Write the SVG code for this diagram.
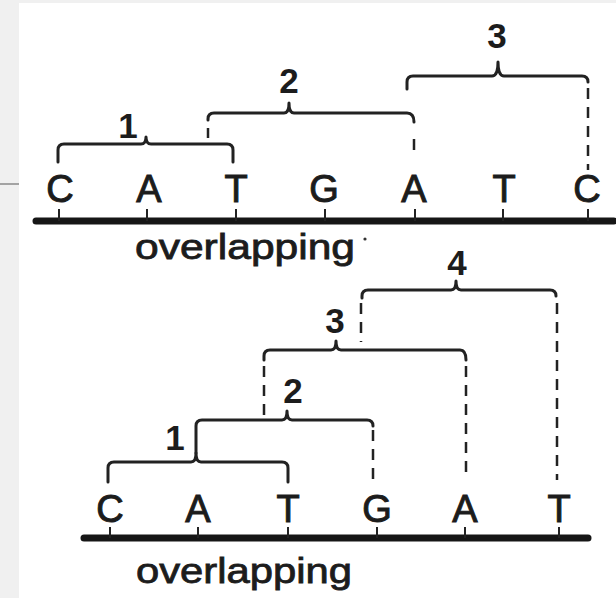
<svg xmlns="http://www.w3.org/2000/svg" width="616" height="598" viewBox="0 0 616 598">
<style>
.base{font-family:"Liberation Sans","Arial",sans-serif;font-size:38px;fill:#1c1c1c;stroke:#1c1c1c;stroke-width:1;text-anchor:middle}
.num{font-family:"Liberation Sans","Arial",sans-serif;font-size:35px;font-weight:bold;fill:#1c1c1c;text-anchor:middle}
.lbl{font-family:"Liberation Sans","Arial",sans-serif;font-size:35px;fill:#1c1c1c;stroke:#1c1c1c;stroke-width:0.8}
.br{fill:none;stroke:#222;stroke-width:3;stroke-linecap:round;stroke-linejoin:round}
.dash{fill:none;stroke:#222;stroke-width:2.5;stroke-dasharray:11 8}
.dna{stroke:#161616;stroke-width:7;stroke-linecap:round}
.tick{stroke:#222;stroke-width:2}
</style>
<rect x="0" y="0" width="616" height="598" fill="#ffffff"/>
<rect x="0" y="0" width="19" height="598" fill="#f0f0f0"/>
<rect x="0" y="0" width="616" height="3" fill="#f0f0f0"/>
<line x1="0" y1="184" x2="19" y2="184" stroke="#8a8a8a" stroke-width="1.5"/>

<!-- top strand -->
<g id="top-strand">
<line class="dna" x1="36" y1="221" x2="614" y2="221"/>
<g class="tick">
<line x1="59" y1="209" x2="59" y2="221"/><line x1="147" y1="209" x2="147" y2="221"/>
<line x1="236" y1="209" x2="236" y2="221"/><line x1="325" y1="209" x2="325" y2="221"/>
<line x1="415" y1="209" x2="415" y2="221"/><line x1="503" y1="209" x2="503" y2="221"/>
<line x1="588" y1="209" x2="588" y2="221"/>
</g>
<text class="base" x="60" y="202">C</text>
<text class="base" x="149" y="202">A</text>
<text class="base" x="236" y="202">T</text>
<text class="base" x="324" y="202">G</text>
<text class="base" x="414" y="202">A</text>
<text class="base" x="504" y="202">T</text>
<text class="base" x="587" y="202">C</text>
<text class="lbl" x="135" y="259" textLength="220" lengthAdjust="spacingAndGlyphs">overlapping</text>
<circle cx="365" cy="239" r="1.6" fill="#333"/>
</g>

<g id="top-codon-1">
<path class="br" d="M58,162 L58,150 Q58,144 64,144 L141,144 Q146,144 146,137 Q146,144 151,144 L227,144 Q233,144 233,150 L233,162"/>
<text class="num" x="128" y="138">1</text>
</g>
<g id="top-codon-2">
<path class="br" d="M208,120 L208,119 Q208,113 214,113 L284,113 Q289,113 289,103 Q289,113 294,113 L407,113 Q414,113 414,122"/>
<text class="num" x="289" y="93">2</text>
</g>
<g id="top-codon-3">
<path class="br" d="M407,89 L407,82 Q407,76 413,76 L492,76 Q498,76 498,62 Q498,76 504,76 L582,76 Q588,76 588,82"/>
<text class="num" x="497" y="48">3</text>
</g>

<!-- bottom strand -->
<g id="bottom-strand">
<line class="dna" x1="84" y1="538" x2="588" y2="538"/>
<g class="tick">
<line x1="110" y1="527" x2="110" y2="538"/><line x1="198" y1="527" x2="198" y2="538"/>
<line x1="288" y1="527" x2="288" y2="538"/><line x1="377" y1="527" x2="377" y2="538"/>
<line x1="465" y1="527" x2="465" y2="538"/><line x1="559" y1="527" x2="559" y2="538"/>
</g>
<text class="base" x="110" y="522">C</text>
<text class="base" x="198" y="522">A</text>
<text class="base" x="288" y="522">T</text>
<text class="base" x="377" y="522">G</text>
<text class="base" x="465" y="522">A</text>
<text class="base" x="559" y="522">T</text>
<text class="lbl" x="136" y="583" textLength="216" lengthAdjust="spacingAndGlyphs">overlapping</text>
</g>

<g id="bottom-codon-1">
<path class="br" d="M108,482 L108,468 Q108,462 114,462 L191,462 Q196,462 196,453 Q196,462 201,462 L282,462 Q288,462 288,468 L288,482"/>
<text class="num" x="175" y="450">1</text>
</g>
<g id="bottom-codon-2">
<path class="br" d="M196,453 L196,426 Q196,420 202,420 L282,420 Q287,420 287,411 Q287,420 292,420 L367,420 Q373,420 373,426"/>
<text class="num" x="293" y="403">2</text>
</g>
<g id="bottom-codon-3">
<path class="br" d="M264,360 L264,356 Q264,350 270,350 L331,350 Q336,350 336,341 Q336,350 341,350 L460,350 Q466,350 466,360"/>
<text class="num" x="335" y="333">3</text>
</g>
<g id="bottom-codon-4">
<path class="br" d="M362,298 L362,296 Q362,290 368,290 L451,290 Q456,290 456,281 Q456,290 461,290 L550,290 Q556,290 556,296"/>
<text class="num" x="457" y="275">4</text>
</g>

<!-- dashed connectors -->
<g id="connectors">
<line class="dash" x1="208" y1="128" x2="208" y2="138"/>
<line class="dash" x1="414" y1="139" x2="414" y2="158"/>
<line class="dash" x1="588" y1="88" x2="588" y2="170"/>
<line class="dash" x1="373" y1="430" x2="373" y2="480"/>
<line class="dash" x1="264" y1="366" x2="264" y2="417"/>
<line class="dash" x1="466" y1="366" x2="466" y2="477"/>
<line class="dash" x1="361" y1="303" x2="361" y2="342"/>
<line class="dash" x1="557" y1="303" x2="557" y2="480"/>
</g>
</svg>
